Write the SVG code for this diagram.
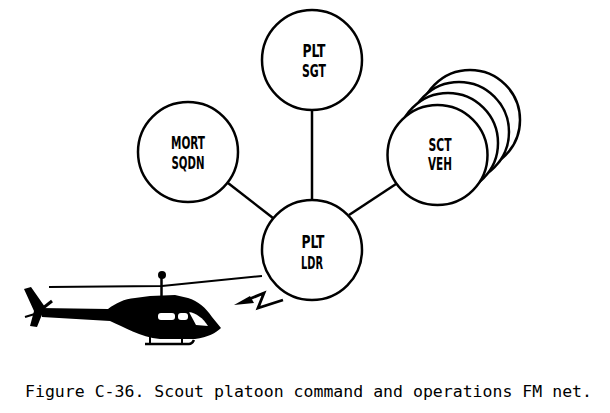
<svg xmlns="http://www.w3.org/2000/svg" width="610" height="413" viewBox="0 0 610 413">
<style>
.node circle{fill:#fff;stroke:#000;stroke-width:2.5}
.lbl{font-family:"Liberation Sans Narrow","DejaVu Sans Condensed","Liberation Sans",sans-serif;font-weight:bold;font-size:17.5px;fill:#000;text-anchor:middle}
.conn line{stroke:#000;stroke-width:2.5}
.cap{font-family:"DejaVu Sans Mono","Liberation Mono",monospace;font-size:16.4px;fill:#000}
</style>
<rect width="610" height="413" fill="#fff"/>
<g id="connectors" class="conn">
<line x1="312" y1="110" x2="312" y2="200"/>
<line x1="228" y1="183" x2="273" y2="218"/>
<line x1="349" y1="215" x2="396" y2="184"/>
</g>
<g id="plt-sgt" class="node">
<circle cx="312" cy="60" r="50"/>
<text class="lbl" x="314" y="57" textLength="23" lengthAdjust="spacingAndGlyphs">PLT</text>
<text class="lbl" x="314" y="77" textLength="24" lengthAdjust="spacingAndGlyphs">SGT</text>
</g>
<g id="mort-sqdn" class="node">
<circle cx="188" cy="152" r="50"/>
<text class="lbl" x="188" y="149" textLength="34" lengthAdjust="spacingAndGlyphs">MORT</text>
<text class="lbl" x="188" y="169" textLength="33" lengthAdjust="spacingAndGlyphs">SQDN</text>
</g>
<g id="sct-veh" class="node">
<circle cx="470" cy="120" r="50"/>
<circle cx="459" cy="132" r="50"/>
<circle cx="448" cy="143" r="50"/>
<circle cx="437.5" cy="155" r="50"/>
<text class="lbl" x="440" y="151" textLength="23" lengthAdjust="spacingAndGlyphs">SCT</text>
<text class="lbl" x="440" y="170" textLength="24" lengthAdjust="spacingAndGlyphs">VEH</text>
</g>
<g id="plt-ldr" class="node">
<circle cx="312" cy="250" r="50"/>
<text class="lbl" x="313" y="248" textLength="23" lengthAdjust="spacingAndGlyphs">PLT</text>
<text class="lbl" x="312" y="269" textLength="22" lengthAdjust="spacingAndGlyphs">LDR</text>
</g>
<g id="radio-link">
<path d="M247 300 L264 293 L258 308 L283 300" fill="none" stroke="#000" stroke-width="2.8" stroke-linejoin="miter"/>
<polygon points="234,305 250,296 254,303" fill="#000"/>
</g>
<g id="helicopter">
<path d="M49 287 L162 286 L262 276" fill="none" stroke="#000" stroke-width="2"/>
<circle cx="162" cy="275" r="4" fill="#000"/>
<line x1="161.5" y1="276" x2="161.5" y2="299" stroke="#000" stroke-width="2.5"/>
<path d="M40 308 L108 309 C116 303 124 299 135 298 L150 296 L175 295 L188 298 C198 301 206 308 212 317 L221 328 C216 333 208 337 195 339 L160 339 C140 337 124 327 110 321 L42 317 Z" fill="#000"/>
<polygon points="24,289 31,287 45,307 37,327 30,326 34,311" fill="#000"/>
<line x1="38" y1="312" x2="52" y2="301" stroke="#000" stroke-width="3"/>
<line x1="25" y1="317" x2="38" y2="313" stroke="#000" stroke-width="2"/>
<rect x="158" y="313" width="17" height="7" rx="3" fill="#fff"/>
<rect x="178" y="313" width="10" height="7" rx="3" fill="#fff"/>
<path d="M189 312 C196 313 203 318 208 326 L196 325 Z" fill="#fff"/>
<path d="M189 312 L197 304" stroke="#000" stroke-width="1.5" fill="none"/>
<path d="M190 311 C200 312 210 320 215 328" stroke="#000" stroke-width="1" fill="none"/>
<line x1="150" y1="337" x2="150" y2="344" stroke="#000" stroke-width="2"/>
<line x1="182" y1="337" x2="182" y2="344" stroke="#000" stroke-width="2"/>
<path d="M145 344 L189 344 C192 344 193 342 194 340" fill="none" stroke="#000" stroke-width="2.5"/>
</g>
<text class="cap" x="25" y="397" textLength="567" lengthAdjust="spacingAndGlyphs">Figure C-36. Scout platoon command and operations FM net.</text>
</svg>
